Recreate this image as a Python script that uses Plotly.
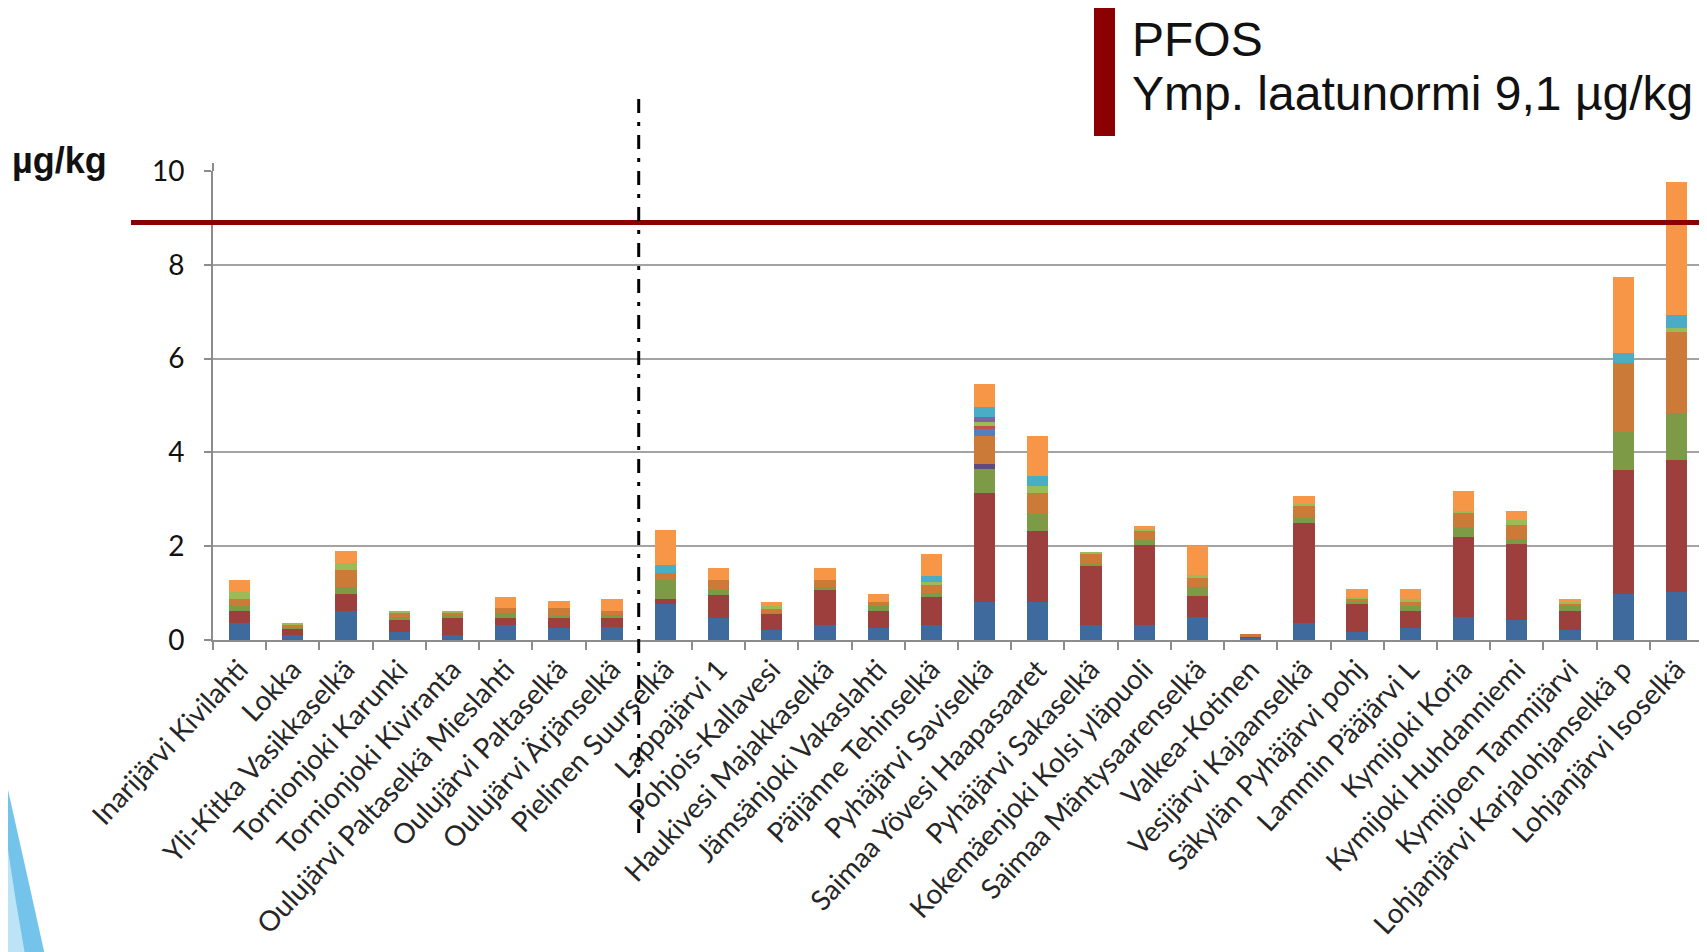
import plotly.graph_objects as go

categories = [
    "Inarijärvi Kivilahti", "Lokka", "Yli-Kitka Vasikkaselkä", "Tornionjoki Karunki",
    "Tornionjoki Kiviranta", "Oulujärvi Paltaselkä Mieslahti", "Oulujärvi Paltaselkä",
    "Oulujärvi Ärjänselkä", "Pielinen Suurselkä", "Lappajärvi 1", "Pohjois-Kallavesi",
    "Haukivesi Majakkaselkä", "Jämsänjoki Vakaslahti", "Päijänne Tehinselkä",
    "Pyhäjärvi Saviselkä", "Saimaa Yövesi Haapasaaret", "Pyhäjärvi Sakaselkä",
    "Kokemäenjoki Kolsi yläpuoli", "Saimaa Mäntysaarenselkä", "Valkea-Kotinen",
    "Vesijärvi Kajaanselkä", "Säkylän Pyhäjärvi pohj", "Lammin Pääjärvi L",
    "Kymijoki Koria", "Kymijoki Huhdanniemi", "Kymijoen Tammijärvi",
    "Lohjanjärvi Karjalohjanselkä p", "Lohjanjärvi Isoselkä",
]

s1 = [0.37, 0.11, 0.62, 0.17, 0.11, 0.32, 0.26, 0.27, 0.77, 0.47, 0.21, 0.32, 0.26, 0.32,
      0.82, 0.82, 0.32, 0.32, 0.48, 0.06, 0.37, 0.17, 0.26, 0.48, 0.43, 0.21, 0.99, 1.03]
s2 = [0.25, 0.14, 0.37, 0.26, 0.35, 0.14, 0.20, 0.20, 0.11, 0.49, 0.35, 0.75, 0.35, 0.60,
      2.31, 1.51, 1.26, 1.70, 0.46, 0.02, 2.13, 0.60, 0.36, 1.72, 1.61, 0.41, 2.63, 2.80]
s3 = [0.10, 0.03, 0.15, 0.05, 0.09, 0.12, 0.07, 0.06, 0.40, 0.11, 0.02, 0.06, 0.11, 0.09,
      0.51, 0.36, 0.05, 0.11, 0.20, 0.00, 0.10, 0.03, 0.10, 0.21, 0.12, 0.12, 0.81, 1.01]
s4 = [0, 0, 0, 0, 0, 0, 0, 0, 0, 0, 0, 0, 0, 0,
      0.11, 0, 0, 0, 0, 0, 0, 0, 0, 0, 0, 0, 0, 0]
s5 = [0.16, 0.04, 0.35, 0.10, 0.03, 0.11, 0.16, 0.09, 0.15, 0.21, 0.08, 0.15, 0.10, 0.17,
      0.60, 0.44, 0.20, 0.20, 0.19, 0.04, 0.25, 0.08, 0.10, 0.30, 0.30, 0.04, 1.47, 1.72]
s6 = [0, 0, 0, 0, 0, 0, 0, 0, 0, 0, 0, 0, 0, 0,
      0.15, 0, 0, 0, 0, 0, 0, 0, 0, 0, 0, 0, 0, 0]
s7 = [0, 0, 0, 0, 0, 0, 0, 0, 0, 0, 0, 0, 0, 0,
      0.06, 0, 0, 0, 0, 0, 0, 0, 0, 0, 0, 0, 0, 0]
s8 = [0.15, 0.05, 0.15, 0.04, 0.04, 0, 0, 0, 0, 0, 0.06, 0, 0, 0.05,
      0.09, 0.16, 0.05, 0.03, 0.05, 0, 0.06, 0.04, 0.05, 0.05, 0.10, 0.02, 0, 0.10]
s9 = [0, 0, 0, 0, 0, 0, 0, 0, 0, 0, 0, 0, 0, 0,
      0.10, 0, 0, 0, 0, 0, 0, 0, 0, 0, 0, 0, 0, 0]
s10 = [0, 0, 0, 0, 0, 0, 0, 0, 0.16, 0, 0, 0, 0, 0.14,
       0.21, 0.20, 0, 0, 0, 0, 0, 0, 0, 0, 0, 0, 0.21, 0.27]
s11 = [0.26, 0, 0.25, 0, 0, 0.23, 0.14, 0.26, 0.76, 0.25, 0.10, 0.25, 0.16, 0.46,
       0.50, 0.86, 0, 0.08, 0.62, 0, 0.16, 0.16, 0.21, 0.41, 0.20, 0.08, 1.63, 2.84]

series = [
    ("Sarja 1", s1, "#3E6A9E"),
    ("Sarja 2", s2, "#9C3F3D"),
    ("Sarja 3", s3, "#7D9A47"),
    ("Sarja 4", s4, "#604A7F"),
    ("Sarja 5", s5, "#CB7A37"),
    ("Sarja 6", s6, "#4F81BD"),
    ("Sarja 7", s7, "#C0504D"),
    ("Sarja 8", s8, "#9BBB59"),
    ("Sarja 9", s9, "#8064A2"),
    ("Sarja 10", s10, "#4BACC6"),
    ("Sarja 11", s11, "#F79646"),
]

limit_value = 8.9          # drawn position of the 9,1 µg/kg line in the picture
divider_position = 7.5     # between Oulujärvi Ärjänselkä and Pielinen Suurselkä

OFF = 8                    # page body margin
W, H = 1707 - OFF, 952 - OFF
L, T = 213 - OFF, 171 - OFF
PR, PB = 1703 - OFF, 640 - OFF
R, B = W - PR, H - PB
PW, PH = PR - L, PB - T


def px(xr):
    return (xr - OFF - L) / PW


def py(yr):
    return (PB - (yr - OFF)) / PH


fig = go.Figure()
for name, vals, col in series:
    fig.add_trace(go.Bar(x=categories, y=vals, name=name, marker_color=col,
                         marker_line_width=0))

fig.update_layout(
    width=W, height=H,
    margin=dict(l=L, r=R, t=T, b=B, autoexpand=False),
    barmode="stack", bargap=0.6, showlegend=False,
    plot_bgcolor="white", paper_bgcolor="white",
    font=dict(family="Lato, sans-serif", color="#222"),
)
fig.update_xaxes(
    type="category", range=[-0.5, len(categories) - 0.5],
    tickangle=-47, tickson="boundaries", ticks="outside", ticklen=8,
    tickcolor="#8C8C8C", tickwidth=2, showline=True, linecolor="#8C8C8C",
    linewidth=2, showgrid=False,
    tickfont=dict(family="Lato, sans-serif", size=28, color="#262626"),
)
fig.update_yaxes(
    range=[0, 10], dtick=2, ticks="outside", ticklen=7, tickcolor="#8C8C8C",
    tickwidth=2, showline=True, linecolor="#8C8C8C", linewidth=2,
    gridcolor="#A3A3A3", gridwidth=2, zeroline=False, ticklabelstandoff=14,
    tickfont=dict(family="Lato, sans-serif", size=28, color="#111"),
)

# axis line stub above the top gridline
fig.add_shape(type="line", xref="paper", yref="paper", x0=0, x1=0, y0=1, y1=py(163),
              line=dict(color="#8C8C8C", width=2))
# Limit line (PFOS)
fig.add_shape(type="line", xref="paper", yref="y", x0=px(131), x1=px(1712),
              y0=limit_value, y1=limit_value,
              line=dict(color="#8B0000", width=5), layer="above")
# Divider
fig.add_shape(type="line", xref="x", yref="paper", x0=divider_position, x1=divider_position,
              y0=py(833), y1=py(93),
              line=dict(color="black", width=3, dash="14px,9px,4px,9px"), layer="above")
# Legend marker
fig.add_shape(type="rect", xref="paper", yref="paper", x0=px(1094), x1=px(1115),
              y0=py(136), y1=py(7), fillcolor="#8B0000", line=dict(width=0))
# Decorative swoosh
fig.add_shape(type="path", xref="paper", yref="paper",
              path=f"M {px(8)},{py(790)} Q {px(26)},{py(870)} {px(46)},{py(960)} L {px(8)},{py(960)} Z",
              fillcolor="#74C3EA", line=dict(width=0), layer="below")
fig.add_shape(type="path", xref="paper", yref="paper",
              path=f"M {px(8)},{py(850)} Q {px(16)},{py(905)} {px(26)},{py(960)} L {px(8)},{py(960)} Z",
              fillcolor="#BDE3F6", line=dict(width=0), layer="below")

fig.add_annotation(xref="paper", yref="paper", x=px(1130), y=py(39), text="PFOS",
                   showarrow=False, xanchor="left", yanchor="middle",
                   font=dict(family="Liberation Sans, Arial", size=48, color="#111"))
fig.add_annotation(xref="paper", yref="paper", x=px(1130), y=py(94),
                   text="Ymp. laatunormi 9,1 µg/kg",
                   showarrow=False, xanchor="left", yanchor="middle",
                   font=dict(family="Liberation Sans, Arial", size=48, color="#111"))
fig.add_annotation(xref="paper", yref="paper", x=px(10), y=py(161), text="<b>µg/kg</b>",
                   showarrow=False, xanchor="left", yanchor="middle",
                   font=dict(family="Liberation Sans, Arial", size=36, color="#111"))

fig.write_html("out.html")
